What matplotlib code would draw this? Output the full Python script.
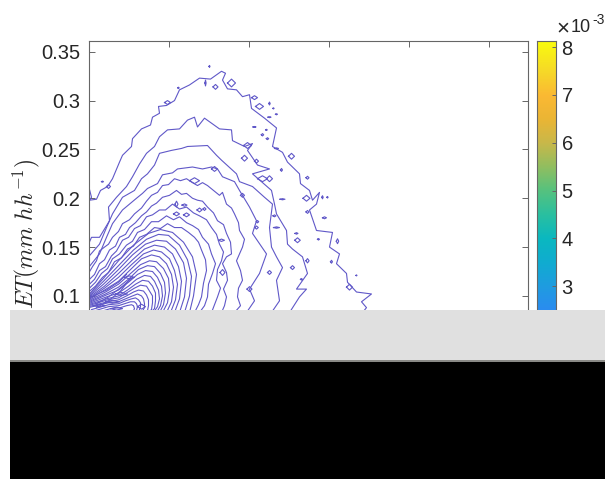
import numpy as np
import matplotlib
matplotlib.use('Agg')
import matplotlib.pyplot as plt
from matplotlib.colors import LinearSegmentedColormap
from matplotlib.patches import Rectangle

plt.rcParams['font.family'] = ['Liberation Sans', 'DejaVu Sans']
plt.rcParams['mathtext.fontset'] = 'cm'

W, H = 605, 479

# contour lines: (x, ET in 1e-3 mm/hh), outermost first
c1 = [(0,213),(3,201),(1,198),(8,199),(12,208),(19,212),(24,220),(31,237),(34,244),(43,253),(44,261),(53,271),(62,275),(64,283),
      (71,287),(70,294),(78,295),(86,300),(91,311),(101,316),(111,323),(122,322),(133,330),(137,328),(134,321),(139,312),(148,311),
      (154,304),(161,306),(163,292),(176,282),(188,272),(184,253),(194,247),(199,237),(211,225),(212,215),(221,208),(224,198),
      (231,206),(228,194),(221,188),(228,167),(244,165),(241,150),(251,143),(248,133),(258,123),(259,114),(268,104),(283,102),
      (273,94),(278,88),(274,83)]
c2 = [(0,153),(3,160),(11,160),(21,177),(20,191),(28,201),(38,212),(44,222),(51,235),(58,246),(66,253),(71,263),(79,270),(91,271),
      (99,280),(106,283),(109,273),(116,282),(131,271),(143,270),(144,259),(156,253),(164,256),(159,249),(169,234),(181,230),
      (164,225),(183,208),(186,194),(188,184),(198,167),(199,153),(204,148),(214,140),(219,123),(208,107),(218,107),(211,99),(201,83)]
c3 = [(0,140),(11,153),(18,170),(24,184),(34,201),(46,208),(53,220),(59,225),(66,234),(71,246),(83,249),(93,251),(99,253),(119,254),
      (128,244),(133,239),(148,225),(151,217),(164,212),(176,201),(184,194),(181,170),(183,150),(188,140),(194,129),(188,116),(191,95),(183,83)]
c4 = [(0,129),(11,143),(18,160),(24,174),(34,188),(48,200),(54,205),(59,210),(69,215),(74,224),(84,226),(89,230),(104,232),(114,230),
      (123,232),(129,230),(134,222),(146,217),(151,208),(161,191),(168,177),(164,164),(178,143),(171,123),(161,107),(166,95),(158,83)]
c5 = [(0,123),(4,130),(8,136),(11,146),(16,150),(20,153),(24,160),(30,166),(34,174),(41,178),(46,184),(53,190),(58,197),(63,203),
      (69,206),(74,213),(80,214),(86,220),(92,218),(98,220),(104,216),(109,213),(114,216),(119,213),(125,208),(131,203),(134,206),
      (138,194),(143,190),(146,184),(150,175),(151,167),(156,158),(154,150),(151,143),(148,136),(152,126),(154,116),(150,108),(149,99),
      (152,90),(146,83)]
c6 = [(0,116),(6,122),(11,133),(16,137),(21,147),(27,151),(31,160),(37,163),(41,170),(47,175),(53,182),(58,186),(63,192),(68,195),
      (74,201),(81,203),(88,208),(93,204),(98,205),(104,200),(109,198),(114,197),(119,191),(125,185),(129,177),(135,173),(138,164),
      (142,155),(143,143),(138,140),(134,133),(138,124),(139,116),(135,107),(138,99),(136,90),(133,83)]
c7 = [(0,111),(6,117),(11,126),(17,130),(23,141),(28,146),(34,157),(40,160),(46,169),(52,172),(58,181),(64,183),(71,188),(77,188),
      (84,194),(91,189),(98,191),(105,185),(111,182),(118,178),(123,170),(128,163),(131,153),(135,145),(133,136),(129,127),(128,116),
      (132,108),(129,99),(126,91),(123,83)]
c8 = [(0,107),(7,114),(13,123),(19,128),(24,138),(31,143),(38,152),(44,156),(49,165),(56,168),(63,176),(70,176),(78,182),(85,178),
      (91,181),(98,175),(104,172),(110,168),(114,160),(120,153),(123,143),(127,133),(124,123),(120,112),(119,99),(116,90),(111,83)]
c9 = [(0,104),(7,110),(14,119),(20,124),(26,135),(33,139),(39,148),(45,151),(51,160),(58,163),(66,170),(72,169),(79,174),(86,170),
      (93,170),(100,165),(106,160),(110,155),(113,147),(117,137),(118,126),(115,113),(113,99),(110,91),(106,83)]
c10 = [(0,101),(15,118),(30,136),(45,152),(60,164),(72,168),(84,165),(95,155),(104,140),(108,122),(105,100),(101,83)]
c11 = [(0,100),(15,115),(30,131),(45,147),(58,158),(70,163),(80,162),(91,152),(99,137),(103,120),(101,100),(96,83)]
c12 = [(0,99),(15,112),(30,127),(44,142),(57,153),(68,157),(78,156),(87,148),(95,134),(98,118),(96,99),(91,83)]
c13 = [(0,98),(16,110),(30,123),(44,137),(56,148),(66,152),(76,150),(84,143),(90,130),(93,115),(91,97),(86,83)]
c14 = [(0,97),(16,108),(30,119),(43,132),(55,143),(65,147),(73,145),(81,138),(86,126),(89,112),(87,96),(82,83)]
c15 = [(0,96),(16,106),(30,115),(42,127),(53,138),(63,142),(71,140),(78,133),(83,122),(85,109),(83,94),(78,83)]
c16 = [(0,95),(17,104),(30,112),(41,122),(52,132),(61,136),(68,135),(75,128),(80,118),(81,106),(79,93),(74,83)]
c17 = [(0,94),(17,102),(30,109),(41,118),(50,127),(59,131),(66,130),(72,123),(76,114),(77,103),(75,91),(71,83)]
c18 = [(0,93),(18,101),(30,106),(40,114),(49,122),(57,126),(64,125),(69,119),(73,110),(74,100),(72,90),(68,83)]
c19 = [(0,92),(18,99),(30,103),(40,110),(48,117),(56,121),(62,120),(66,115),(70,106),(71,97),(69,89),(65,83)]
c20 = [(0,91),(18,97),(30,100),(39,106),(47,112),(54,116),(60,115),(64,110),(67,103),(67,95),(66,87),(62,83)]
c21 = [(0,90),(19,96),(30,98),(38,103),(46,108),(52,111),(58,110),(61,105),(64,100),(64,93),(63,86),(59,83)]
c22 = [(0,89),(19,94),(30,96),(38,100),(45,104),(50,106),(55,105),(58,101),(60,96),(60,90),(59,85),(56,83)]
c23 = [(0,88),(20,93),(30,94),(37,97),(44,100),(49,102),(53,100),(55,97),(56,92),(56,88),(53,83)]
c24 = [(3,86),(20,91),(30,92),(37,95),(43,97),(47,98),(50,96),(52,93),(52,89),(50,83)]
c25 = [(7,85),(20,89),(30,90),(36,92),(42,94),(46,94),(48,92),(49,89),(48,85),(46,83)]
c26 = [(12,84),(22,87),(32,88),(38,90),(43,91),(45,90),(46,87),(44,83)]
ridge1 = [(5,100),(18,106),(30,114),(38,122)]
ridge2 = [(8,92),(20,99),(34,110),(44,119)]
ridge3 = [(8,88),(20,95),(32,105),(41,117)]
contours = [c1, c2, c3, c4, c5, c6, c7, c8, c9, c10, c11, c12, c13, c14, c15, c16, c17, c18, c19, c20, c21, c22, c23,
            c24, c25, c26, ridge1, ridge2, ridge3]

# small closed contours: centre x, centre ET (1e-3), half width, half height
island_x = [121,143,127,117,166,171,181,185,188,181,174,179,188,166,178,203,193,219,174,218,239,234,219,236,208,209,230,249,243,219,
            204,213,268,261,161,181,133,134,111,116,96,88,88,98,106,126,156,168,159,154,194,186,188,169,168,181,79,90,14,20,
            41,33,24,11,28,53,1]
island_y = [335,318,314,318,303,294,297,292,286,283,265,261,251,273,270,243,229,221,220,200,201,201,186,180,164,157,158,156,135,136,
            129,117,121,109,107,124,157,124,188,189,193,194,184,183,218,230,241,238,254,203,199,182,170,176,170,220,298,313,217,212,
            119,102,94,90,87,89,99]
island_w = [.5,4,2.5,.6,3,4,.7,.6,1,1.5,1.2,1.2,2,1.5,.8,3,1,1.5,5,3.5,.6,.7,1.5,2,1.5,2.8,1,1.2,1,1.6,
            2,1,.5,3,2.5,2,3,2.5,2.5,1.5,2.5,1.5,3,3,5,3,3,2,4,2,2.5,1.5,3,1.2,1.8,3,3,.7,1,2,
            5,6,7,6,6,4,2]
island_h = [1,4,2.5,3,2,3,1.5,.6,.6,.5,1.2,1,.6,.5,.6,3,1.5,1.5,3,3,.8,1.6,1.5,1,.8,2.5,.8,2.5,1.5,2.2,
            2,.8,.5,3,2.5,2,1.2,3,2,1.5,1.2,3,2,2,3,2.5,3,2,3,2,.6,1,.7,1.2,1.6,3,2,.7,.6,2,
            1.5,1.5,1.5,1.2,1.5,2.5,2]

y_ticks = [0.1, 0.15, 0.2, 0.25, 0.3, 0.35]
y_labels = ['0.1', '0.15', '0.2', '0.25', '0.3', '0.35']
x_ticks = [0, 80, 160, 240, 320, 400]
cb_ticks = [1, 2, 3, 4, 5, 6, 7, 8]
cb_values = [0.75, 2.5, 3, 3.5, 4, 4.5, 5, 5.5, 6, 6.5, 7, 7.5, 8.13]
cb_colors = ['#352a87', '#2b8cf0', '#1f9ce0', '#10acd0', '#0ab8c0', '#2abfa0', '#55c27f', '#90be60', '#c8b84a',
             '#eab535', '#fbb933', '#f6d828', '#f9fb0e']

line_c = '#6058c8'
axis_c = '#666666'
text_c = '#262626'

fig = plt.figure(figsize=(W / 100, H / 100), dpi=100)

ax = fig.add_axes([88.5 / W, 1 - 393.6 / H, (527.5 - 88.5) / W, (393.6 - 41) / H])
for c in contours:
    pts = np.array(c, dtype=float)
    ax.plot(pts[:, 0], pts[:, 1] / 1000, color=line_c, lw=0.8, solid_joinstyle='round')
for cx, cy, w, h in zip(island_x, island_y, island_w, island_h):
    ax.plot([cx - w, cx, cx + w, cx, cx - w], [cy / 1000, (cy + h) / 1000, cy / 1000, (cy - h) / 1000, cy / 1000],
            color=line_c, lw=0.8)
ax.set_xlim(0, 439)
ax.set_ylim(0, 0.361)
ax.set_yticks(y_ticks)
ax.set_yticklabels(y_labels)
ax.set_xticks(x_ticks)
ax.set_xticklabels([])
ax.tick_params(direction='in', length=4, width=0.7, color=axis_c, top=True, right=True,
               labelsize=14.5, labelcolor=text_c, pad=6)
for s in ax.spines.values():
    s.set_linewidth(0.8)
    s.set_color(axis_c)
fig.text(26 / W, 1 - 234 / H, r'$ET(mm\ hh^{-1})$', rotation=90, fontsize=17, ha='center', va='center', color=text_c)

cax = fig.add_axes([537 / W, 1 - 393.6 / H, 19 / W, (393.6 - 41) / H])
vmin, vmax = cb_values[0], cb_values[-1]
pos = [(v - vmin) / (vmax - vmin) for v in cb_values]
cmap = LinearSegmentedColormap.from_list('parula_like', list(zip(pos, cb_colors)))
grad = np.linspace(vmin, vmax, 256).reshape(-1, 1)
cax.imshow(grad, origin='lower', aspect='auto', cmap=cmap, extent=[0, 1, vmin, vmax])
cax.set_xticks([])
cax.yaxis.tick_right()
cax.set_yticks(cb_ticks)
cax.tick_params(direction='in', length=3, width=0.7, color=axis_c, labelsize=14.5, labelcolor=text_c, pad=4)
for s in cax.spines.values():
    s.set_linewidth(0.8)
    s.set_color(axis_c)
fig.text(556 / W, 1 - 29 / H, '\u00d7', fontsize=16, ha='left', va='center', color=text_c)
fig.text(571 / W, 1 - 27 / H, '10', fontsize=13, ha='left', va='center', color=text_c)
fig.text(592 / W, 1 - 20 / H, '-3', fontsize=10, ha='left', va='center', color=text_c)

# the covered part at the bottom of the picture
fig.add_artist(Rectangle((10 / W, 1 - 361 / H), (W - 10) / W, 51 / H, transform=fig.transFigure, fc='#e0e0e0', ec='none'))
fig.add_artist(Rectangle((10 / W, 1 - 362 / H), (W - 10) / W, 2 / H, transform=fig.transFigure, fc='#8a8a86', ec='none'))
fig.add_artist(Rectangle((10 / W, 0), (W - 10) / W, 1 - 362 / H, transform=fig.transFigure, fc='black', ec='none'))

fig.savefig('out.png', dpi=100)
